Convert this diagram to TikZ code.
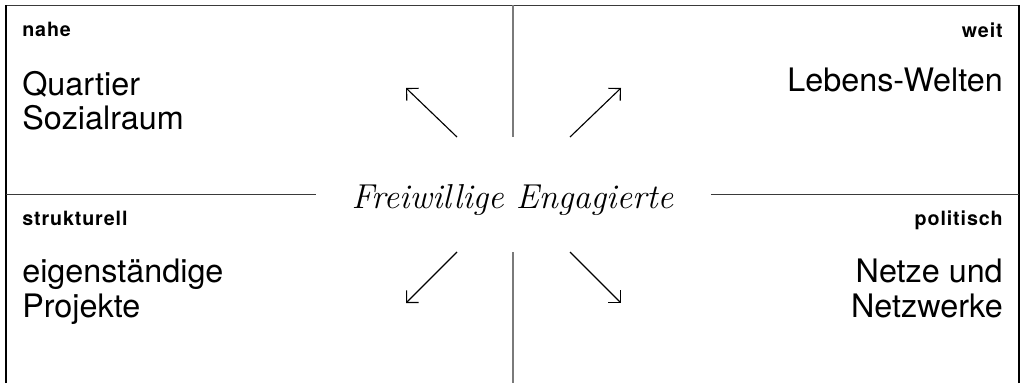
\documentclass[tikz,border=0pt]{standalone}
\usepackage{fontspec}
\newfontfamily\quadfont{TeX Gyre Heros}
\newfontfamily\tagfont[LetterSpace=4.5]{TeX Gyre Heros}
\usepackage{xcolor}
\definecolor{frameGray}{HTML}{7A7A7A}
\definecolor{ruleDark}{HTML}{3A3A3A}
\usepackage{tikz}
\usetikzlibrary{arrows.meta}

\begin{document}
\begin{tikzpicture}[>={Straight Barb[angle=90:0.3cm]},
  quad/.style={font=\quadfont\fontsize{23}{24.5}\selectfont, inner sep=0pt},
  tag/.style={font=\tagfont\bfseries\fontsize{14}{16}\selectfont, inner sep=0pt}]
  \useasboundingbox (0,0) rectangle (25.625,9.575);
  % outer frame, open at the bottom
  \draw[ruleDark, line width=1pt] (0.15,9.44) -- (25.475,9.44);
  \draw[line width=1.4pt] (0.15,0) -- (0.15,9.44);
  \draw[line width=1.4pt] (25.475,0) -- (25.475,9.44);
  % cross, broken round the centre
  \draw[frameGray, line width=1.4pt] (12.82,9.44) -- (12.82,6.15);
  \draw[frameGray, line width=1.4pt] (12.82,3.275) -- (12.82,0);
  \draw[ruleDark, line width=0.8pt] (0.15,4.71) -- (7.91,4.71);
  \draw[ruleDark, line width=0.8pt] (17.77,4.71) -- (25.475,4.71);
  % the centre
  \node[anchor=base, font=\itshape\fontsize{24.6}{28}\selectfont, inner sep=0pt]
    (freiwillige) at (12.81,4.375) {Freiwillige Engagierte};
  % arrow ends
  \coordinate (ulTail) at (11.425,6.15);  \coordinate (ulHead) at (10.15,7.375);
  \coordinate (urTail) at (14.25,6.15);   \coordinate (urHead) at (15.525,7.375);
  \coordinate (llTail) at (11.425,3.275); \coordinate (llHead) at (10.15,2.0);
  \coordinate (lrTail) at (14.25,3.275);  \coordinate (lrHead) at (15.525,2.0);
  \foreach \q in {ul,ur,ll,lr} \draw[->, line width=0.8pt] (\q Tail) -- (\q Head);
  % the four fields
  \node[tag, anchor=base west] (nahe) at (0.55,8.65) {nahe};
  \node[quad, anchor=north west, align=left] (quartier) at (0.55,7.8)
    {Quartier\\ Sozialraum};
  \node[tag, anchor=base east] (weit) at (25.075,8.64) {weit};
  \node[quad, anchor=base east] (lebenswelten) at (25.075,7.275) {Lebens-Welten};
  \node[tag, anchor=base west] (strukturell) at (0.55,3.95) {strukturell};
  \node[quad, anchor=north west, align=left] (projekte) at (0.55,3.1)
    {eigenständige\\ Projekte};
  \node[tag, anchor=base east] (politisch) at (25.075,3.95) {politisch};
  \node[quad, anchor=north east, align=right] (netze) at (25.075,3.1)
    {Netze und\\ Netzwerke};
\end{tikzpicture}
\end{document}
